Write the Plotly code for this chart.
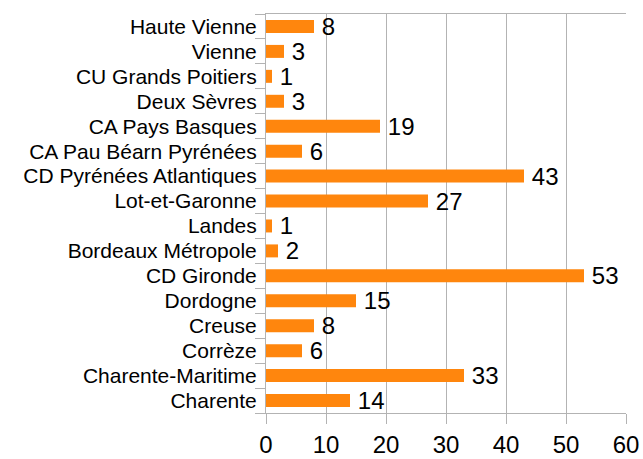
import plotly.graph_objects as go

categories = ["Charente", "Charente-Maritime", "Corrèze", "Creuse", "Dordogne",
              "CD Gironde", "Bordeaux Métropole", "Landes", "Lot-et-Garonne",
              "CD Pyrénées Atlantiques", "CA Pau Béarn Pyrénées", "CA Pays Basques",
              "Deux Sèvres", "CU Grands Poitiers", "Vienne", "Haute Vienne"]
values = [14, 33, 6, 8, 15, 53, 2, 1, 27, 43, 6, 19, 3, 1, 3, 8]
x_ticks = [0, 10, 20, 30, 40, 50, 60]

grid = "#b3b3b3"
font = "Liberation Sans, Arial, sans-serif"

pos = list(range(len(categories)))
bounds = [p - 0.5 for p in pos] + [len(categories) - 0.5]

fig = go.Figure(go.Bar(
    x=values, y=pos, orientation="h",
    marker=dict(color="#ff860d", line=dict(width=0)),
    width=0.52,
    text=["\u2009" + str(v) for v in values], textposition="outside",
    constraintext="none",
    textfont=dict(size=24, color="#000000", family=font),
    cliponaxis=False,
))

fig.update_layout(
    width=643, height=459,
    margin=dict(l=266, r=17, t=14, b=46, autoexpand=False),
    paper_bgcolor="white", plot_bgcolor="white",
    showlegend=False,
    font=dict(family=font, color="#000000"),
    xaxis=dict(range=[0, 60], tickmode="array", tickvals=x_ticks, showgrid=True,
               gridcolor=grid, gridwidth=1,
               showline=True, linecolor=grid, linewidth=1, mirror=True,
               ticks="outside", ticklen=10, tickcolor=grid, automargin=False,
               tickfont=dict(size=24, color="#000000"), zeroline=False),
    yaxis=dict(type="linear", range=[bounds[0], bounds[-1]], showgrid=False, zeroline=False,
               tickmode="array", tickvals=pos, ticktext=categories, ticks="",
               showline=True, linecolor=grid, linewidth=1, automargin=False,
               minor=dict(tickmode="array", tickvals=bounds, ticks="outside", ticklen=10,
                          tickcolor=grid, tickwidth=1, showgrid=False),
               tickfont=dict(size=21, color="#000000"), ticklabelstandoff=4),
)

fig.write_html("out.html", config={"displayModeBar": False},
               post_script="document.body.style.margin='0';document.body.style.padding='0';")
